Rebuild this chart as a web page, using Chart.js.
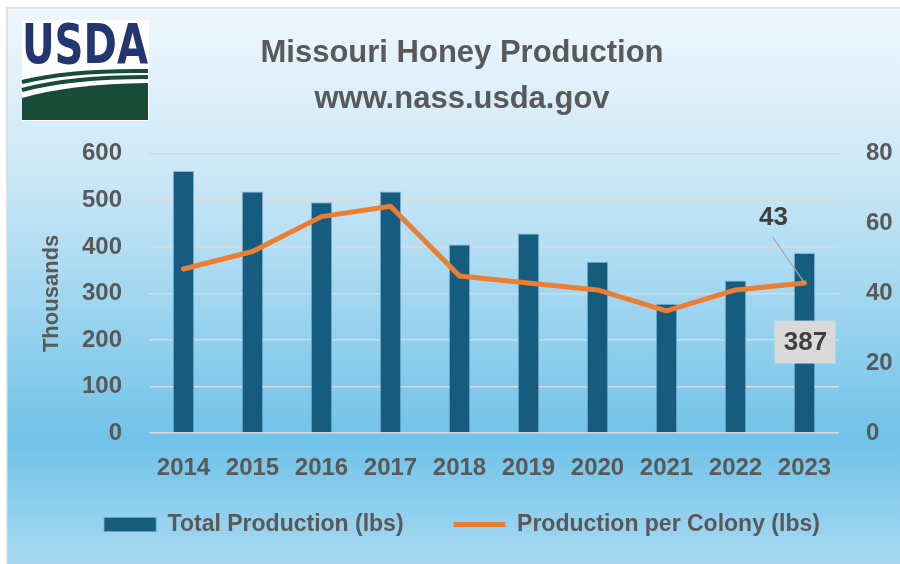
<!DOCTYPE html>
<html>
<head>
<meta charset="utf-8">
<title>Missouri Honey Production</title>
<script src="https://cdn.jsdelivr.net/npm/chart.js@4.4.1/dist/chart.umd.min.js"></script>
<style>
  html, body { margin: 0; padding: 0; background: #fff; }
  #wrap { width: 900px; height: 564px; }
</style>
</head>
<body>
<div id="wrap"><canvas id="myChart" width="900" height="564"></canvas></div>
<script>
'use strict';

// chart data
const years = ['2014', '2015', '2016', '2017', '2018', '2019', '2020', '2021', '2022', '2023'];
const totalProduction = [563, 519, 496, 519, 405, 429, 368, 278, 328, 387]; // thousands of lbs
const perColony = [47, 52, 62, 65, 45, 43, 41, 35, 41, 43]; // lbs
const leftTicks = [0, 100, 200, 300, 400, 500, 600];
const rightTicks = [0, 20, 40, 60, 80];
const titleLines = ['Missouri Honey Production', 'www.nass.usda.gov'];

const GREY = '#595959';
const FONT = '"Liberation Sans", Arial, sans-serif';

// background panel, border and the USDA logo
const backdrop = {
  id: 'backdrop',
  beforeDraw(chart) {
    const ctx = chart.ctx;
    ctx.save();
    ctx.fillStyle = '#fff';
    ctx.fillRect(0, 0, chart.width, chart.height);
    const grad = ctx.createLinearGradient(0, 8, 0, 562);
    grad.addColorStop(0, '#eef7fd');
    grad.addColorStop(0.3, '#cbe8f7');
    grad.addColorStop(0.78, '#70c2e8');
    grad.addColorStop(1, '#a6d9f1');
    ctx.fillStyle = grad;
    ctx.fillRect(7, 8, 900, 560);
    ctx.strokeStyle = '#d9d9d9';
    ctx.lineWidth = 1.5;
    ctx.strokeRect(7, 8, 900, 560);

    // logo
    ctx.fillStyle = '#fff';
    ctx.fillRect(22, 20, 127, 101);
    ctx.fillStyle = '#24366f';
    ctx.font = 'bold 56px "DejaVu Sans Condensed", "Liberation Sans", sans-serif';
    ctx.textBaseline = 'alphabetic';
    ctx.textAlign = 'left';
    ctx.fillText('USDA', 22, 63, 126);
    ctx.fillStyle = '#174d38';
    ctx.beginPath();
    ctx.moveTo(22, 98);
    ctx.quadraticCurveTo(70, 84, 148, 83);
    ctx.lineTo(148, 120);
    ctx.lineTo(22, 120);
    ctx.closePath();
    ctx.fill();
    ctx.strokeStyle = '#174d38';
    ctx.lineWidth = 4;
    ctx.beginPath();
    ctx.moveTo(22, 82);
    ctx.quadraticCurveTo(70, 70, 148, 71);
    ctx.stroke();
    ctx.beginPath();
    ctx.moveTo(22, 90);
    ctx.quadraticCurveTo(70, 77, 148, 77);
    ctx.stroke();
    ctx.restore();
  }
};

// the two data labels on 2023
const lastLabels = {
  id: 'lastLabels',
  afterDatasetsDraw(chart) {
    const ctx = chart.ctx;
    const i = years.length - 1;
    const bar = chart.getDatasetMeta(0).data[i];
    const pt = chart.getDatasetMeta(1).data[i];
    ctx.save();
    ctx.font = 'bold 26px ' + FONT;
    ctx.textAlign = 'center';
    ctx.textBaseline = 'middle';

    // bar value in a grey box, centred on the bar
    const cy = (bar.y + bar.base) / 2;
    ctx.fillStyle = '#d9d9d9';
    ctx.fillRect(bar.x - 30, cy - 22, 61, 43);
    ctx.fillStyle = '#404040';
    ctx.fillText(String(totalProduction[i]), bar.x + 1, cy);

    // line value with leader line
    ctx.strokeStyle = '#a6a6a6';
    ctx.lineWidth = 1.2;
    ctx.beginPath();
    ctx.moveTo(pt.x - 32, pt.y - 46);
    ctx.lineTo(pt.x, pt.y);
    ctx.stroke();
    ctx.fillText(String(perColony[i]), pt.x - 31, pt.y - 65);
    ctx.restore();
  }
};

const ctx = document.getElementById('myChart').getContext('2d');
const chart = new Chart(ctx, {
  type: 'bar',
  data: {
    labels: years,
    datasets: [{
      type: 'bar',
      label: 'Total Production (lbs)',
      data: totalProduction,
      backgroundColor: '#155c7f',
      borderColor: 'rgba(110,165,200,0.7)',
      borderWidth: 1,
      categoryPercentage: 1,
      barPercentage: 0.31,
      yAxisID: 'y',
      order: 2,
      pointStyle: 'rect'
    }, {
      type: 'line',
      label: 'Production per Colony (lbs)',
      data: perColony,
      borderColor: '#ed7d31',
      backgroundColor: '#ed7d31',
      borderWidth: 5,
      borderCapStyle: 'round',
      borderJoinStyle: 'round',
      pointRadius: 0,
      pointStyle: 'line',
      tension: 0,
      yAxisID: 'y1',
      order: 1
    }]
  },
  options: {
    responsive: false,
    animation: false,
    layout: { padding: { left: 24, right: 0, top: 0, bottom: 18 } },
    plugins: {
      title: {
        display: true,
        text: titleLines,
        color: GREY,
        font: { family: FONT, size: 31, weight: 'bold', lineHeight: 1.465 },
        padding: { top: 31, bottom: 32 }
      },
      legend: {
        position: 'bottom',
        labels: {
          usePointStyle: true,
          pointStyleWidth: 52,
          boxHeight: 14,
          padding: 50,
          color: GREY,
          font: { family: FONT, size: 23, weight: 'bold' },
          sort: (a, b) => a.datasetIndex - b.datasetIndex
        }
      },
      tooltip: { enabled: false }
    },
    scales: {
      x: {
        offset: true,
        grid: { display: false, drawTicks: false },
        border: { display: false },
        // mirror only so the labels are not clipped to the thin axis box
        ticks: { mirror: true, color: GREY, padding: -50, font: { family: FONT, size: 24, weight: 'bold' } },
        afterFit(s) { s.height = 30; }
      },
      y: {
        position: 'left',
        min: 0,
        max: leftTicks[leftTicks.length - 1],
        afterBuildTicks(s) { s.ticks = leftTicks.map(v => ({ value: v })); },
        grid: { color: '#d9d9d9', lineWidth: 1.5, drawTicks: false },
        border: { display: false },
        ticks: { color: GREY, padding: 27, font: { family: FONT, size: 24, weight: 'bold' } },
        title: {
          display: true,
          text: 'Thousands',
          color: GREY,
          font: { family: FONT, size: 22, weight: 'bold' },
          padding: { top: 15, bottom: 0 }
        },
        afterFit(s) { s.width = 125; }
      },
      y1: {
        position: 'right',
        min: 0,
        max: rightTicks[rightTicks.length - 1],
        afterBuildTicks(s) { s.ticks = rightTicks.map(v => ({ value: v })); },
        grid: { display: false, drawTicks: false },
        border: { display: false },
        ticks: { color: GREY, padding: 27, font: { family: FONT, size: 24, weight: 'bold' } },
        afterFit(s) { s.width = 61; }
      }
    }
  },
  plugins: [backdrop, lastLabels]
});
</script>
</body>
</html>
